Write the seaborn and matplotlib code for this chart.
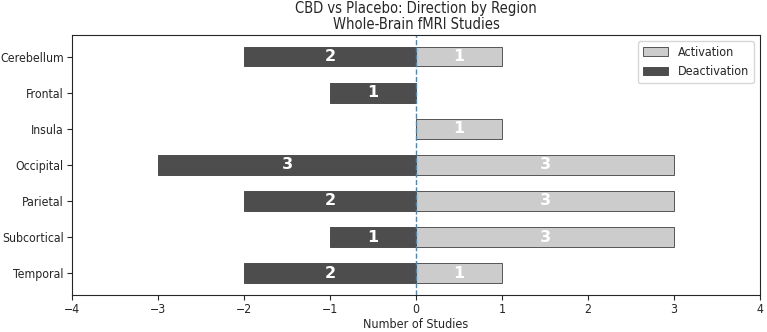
import matplotlib
matplotlib.use("Agg")
import matplotlib.pyplot as plt
import pandas as pd
import seaborn as sns

regions = ["Cerebellum", "Frontal", "Insula", "Occipital", "Parietal", "Subcortical", "Temporal"]
activation = [1, 0, 1, 3, 3, 3, 1]
deactivation = [2, 1, 0, 3, 2, 1, 2]

df = pd.DataFrame({"region": regions, "act": activation,
                   "deact": [-v for v in deactivation]})

sns.set_style("ticks")
plt.rcParams["font.family"] = ["DejaVu Sans"]
plt.rcParams["font.stretch"] = "condensed"

fig, ax = plt.subplots(figsize=(7.67, 3.32), dpi=100)

sns.barplot(data=df, y="region", x="act", orient="h", color="#cccccc",
            edgecolor="#555555", linewidth=0.7, width=0.55, saturation=1,
            label="Activation", ax=ax)
sns.barplot(data=df, y="region", x="deact", orient="h", color="#4d4d4d",
            edgecolor="#4d4d4d", linewidth=0.7, width=0.55, saturation=1,
            label="Deactivation", ax=ax)

# counts written inside the bars, skipping zeros
for i, (a, d) in enumerate(zip(activation, deactivation)):
    if a:
        ax.text(a / 2, i, str(a), ha="center", va="center", color="white",
                fontweight="bold", fontsize=11.5, fontstretch="normal")
    if d:
        ax.text(-d / 2, i, str(d), ha="center", va="center", color="white",
                fontweight="bold", fontsize=11.5, fontstretch="normal")

ax.axvline(0, color="#3a8ac4", linestyle="--", linewidth=1)
ax.set_xlim(-4, 4)
ax.set_ylim(6.6, -0.6)
ax.set_xlabel("Number of Studies", fontsize=9, labelpad=1.5)
ax.set_ylabel("")
ax.tick_params(labelsize=8.8, length=3.5, pad=2.5)
ax.set_title("CBD vs Placebo: Direction by Region\nWhole-Brain fMRI Studies",
             fontsize=10.5, linespacing=1.15, pad=4)
ax.legend(loc="upper right", fontsize=9)
for s in ax.spines.values():
    s.set_visible(True)

fig.subplots_adjust(left=0.094, right=0.991, top=0.895, bottom=0.112)
fig.savefig("out.png", dpi=100)
